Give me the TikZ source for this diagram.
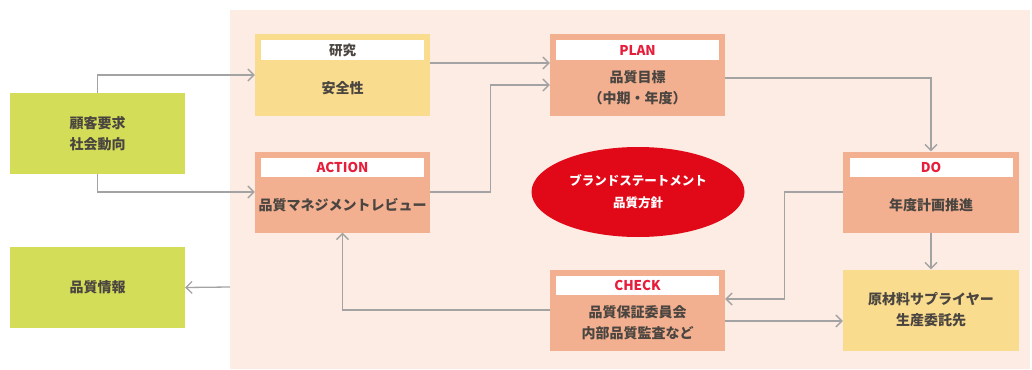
\documentclass[tikz,border=0pt]{standalone}
\usepackage{fontspec}
\setmainfont{Noto Sans CJK JP}
\usepackage{tikz}
\usetikzlibrary{positioning,calc,shapes.geometric,arrows.meta}
\definecolor{bgpink}{HTML}{FDECE3}
\definecolor{leaf}{HTML}{D4DD58}
\definecolor{cream}{HTML}{F9DC8D}
\definecolor{salmon}{HTML}{F3B090}
\definecolor{brand}{HTML}{E10817}
\definecolor{redtxt}{HTML}{E61E3C}
\definecolor{wire}{HTML}{A3A3A3}
\definecolor{ink}{HTML}{4A4540}

\begin{document}
\begin{tikzpicture}[x=1pt,y=-1pt,
	box/.style={rectangle,inner sep=0pt,minimum width=175pt,minimum height=81pt},
	head/.style={rectangle,fill=white,inner sep=0pt,minimum width=163pt,minimum height=19pt,font=\fontsize{13.5}{15}\selectfont\bfseries},
	txt/.style={align=center,text=ink,inner sep=0pt,font=\fontsize{14}{21}\selectfont\bfseries},
	flow/.style={draw=wire,line width=1.3pt,-{Straight Barb[length=6pt,width=12pt]}}]
		\useasboundingbox (0,0) rectangle (1032,369);
		\fill [bgpink] (230,10) rectangle (1030,369);
		% outside
		\node [box,fill=leaf,txt] (needs) at (97.5,133.5) {顧客要求\\社会動向};
		\node [box,fill=leaf,txt] (info) at (97.5,287.5) {品質情報};
		% study
		\node [box,fill=cream] (study) at (342.5,75) {};
		\node [head,below=6pt of study.north,text=ink] (study-h) {研究};
		\node [txt] (study-b) at ($(study-h.south)!0.5!(study.south)$) {安全性};
		% action
		\node [box,fill=salmon] (act) at (342.5,192) {};
		\node [head,below=6pt of act.north,text=redtxt] (act-h) {ACTION};
		\node [txt] (act-b) at ($(act-h.south)!0.5!(act.south)$) {品質マネジメントレビュー};
		% plan
		\node [box,fill=salmon] (plan) at (637.5,75) {};
		\node [head,below=6pt of plan.north,text=redtxt] (plan-h) {PLAN};
		\node [txt] (plan-b) at ($(plan-h.south)!0.5!(plan.south)$) {品質目標\\（中期・年度）};
		% do
		\node [box,fill=salmon,minimum width=176pt] (do) at (931,192) {};
		\node [head,below=6pt of do.north,text=redtxt] (do-h) {DO};
		\node [txt] (do-b) at ($(do-h.south)!0.5!(do.south)$) {年度計画推進};
		% check
		\node [box,fill=salmon] (chk) at (637.5,310) {};
		\node [head,below=6pt of chk.north,text=redtxt] (chk-h) {CHECK};
		\node [txt] (chk-b) at ($(chk-h.south)!0.5!(chk.south)$) {品質保証委員会\\内部品質監査など};
		% supplier
		\node [box,fill=cream,minimum width=176pt,txt] (sup) at (931,310) {原材料サプライヤー\\生産委託先};
		% policy
		\node [ellipse,fill=brand,minimum width=213pt,minimum height=90pt,align=center,text=white,
			font=\fontsize{12.5}{22}\selectfont\bfseries] (brand) at (638,192) {ブランドステートメント\\品質方針};
		% arrows
		\coordinate (edge) at (230,287);
		\draw [flow] (needs.north) |- (study.west);
		\draw [flow] (needs.south) |- (act.west);
		\draw [flow] ([yshift=12pt]study.east) -- ([yshift=12pt]plan.west);
		\draw [flow] (act.east) -- ++(60,0) |- ([yshift=-10pt]plan.west);
		\draw [flow] ([yshift=-3pt]plan.east) -| (do.north);
		\draw [flow] (do.south) -- (sup.north);
		\draw [flow] (do.west) -- ++(-58,0) |- ([yshift=11pt]chk.east);
		\draw [flow] ([yshift=-11pt]chk.east) -- ([yshift=-11pt]sup.west);
		\draw [flow] (chk.west) -| (act.south);
		\draw [flow] (edge) -- (info.east);
\end{tikzpicture}
\end{document}
